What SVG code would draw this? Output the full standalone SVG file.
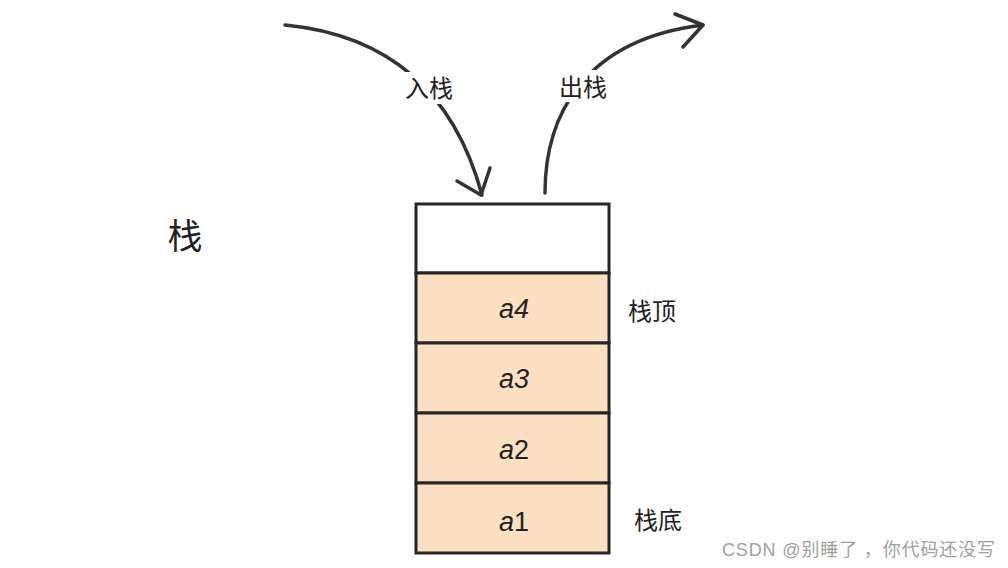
<svg xmlns="http://www.w3.org/2000/svg" width="1008" height="568" viewBox="0 0 1008 568">
<style>
.cell{stroke:#262626;stroke-width:3}
.fill{fill:#fddfc2}
.arrow{fill:none;stroke:#333;stroke-width:3.5;stroke-linecap:round;stroke-linejoin:round}
.cjk{font-family:"Liberation Sans","Noto Sans CJK SC",sans-serif;fill:#222}
.item{font-family:"Liberation Sans","Noto Sans CJK SC",sans-serif;font-size:27px;fill:#222;text-anchor:middle}
</style>
<rect width="1008" height="568" fill="#fff"/>
<g id="connectors">
<path class="arrow" d="M285,25 Q440,40 482,195"/>
<polyline class="arrow" points="457,181 481,195 490,168"/>
<path class="arrow" d="M545,193 C545,120 580,40 703,25"/>
<polyline class="arrow" points="675,14 703,25 683,47"/>
<rect x="401" y="72" width="58" height="32" fill="#fff"/>
<rect x="554" y="70" width="58" height="32" fill="#fff"/>
<text class="cjk" x="429" y="97" font-size="24" text-anchor="middle">入栈</text>
<text class="cjk" x="583" y="96" font-size="24" text-anchor="middle">出栈</text>
</g>
<g id="title"><text class="cjk" x="185" y="249" font-size="35" text-anchor="middle">栈</text></g>
<g id="empty"><rect class="cell" x="416" y="204" width="193" height="69" fill="#fff"/></g>
<g id="a4"><rect class="cell fill" x="416" y="273" width="193" height="70"/><text class="item" x="514" y="318"><tspan font-style="italic">a4</tspan></text></g>
<g id="a3"><rect class="cell fill" x="416" y="343" width="193" height="70"/><text class="item" x="514" y="388"><tspan font-style="italic">a3</tspan></text></g>
<g id="a2"><rect class="cell fill" x="416" y="413" width="193" height="70"/><text class="item" x="514" y="459"><tspan font-style="italic">a</tspan><tspan font-style="normal">2</tspan></text></g>
<g id="a1"><rect class="cell fill" x="416" y="483" width="193" height="70"/><text class="item" x="514" y="531"><tspan font-style="italic">a</tspan><tspan font-style="normal">1</tspan></text></g>
<g id="top-label"><text class="cjk" x="652" y="320" font-size="24" text-anchor="middle">栈顶</text></g>
<g id="bottom-label"><text class="cjk" x="658" y="529" font-size="24" text-anchor="middle">栈底</text></g>
<text x="722" y="556" font-family="Liberation Sans,Noto Sans CJK SC,sans-serif" font-size="18" fill="#a0a0a0" textLength="273" lengthAdjust="spacing">CSDN @别睡了 ，你代码还没写</text>
</svg>
